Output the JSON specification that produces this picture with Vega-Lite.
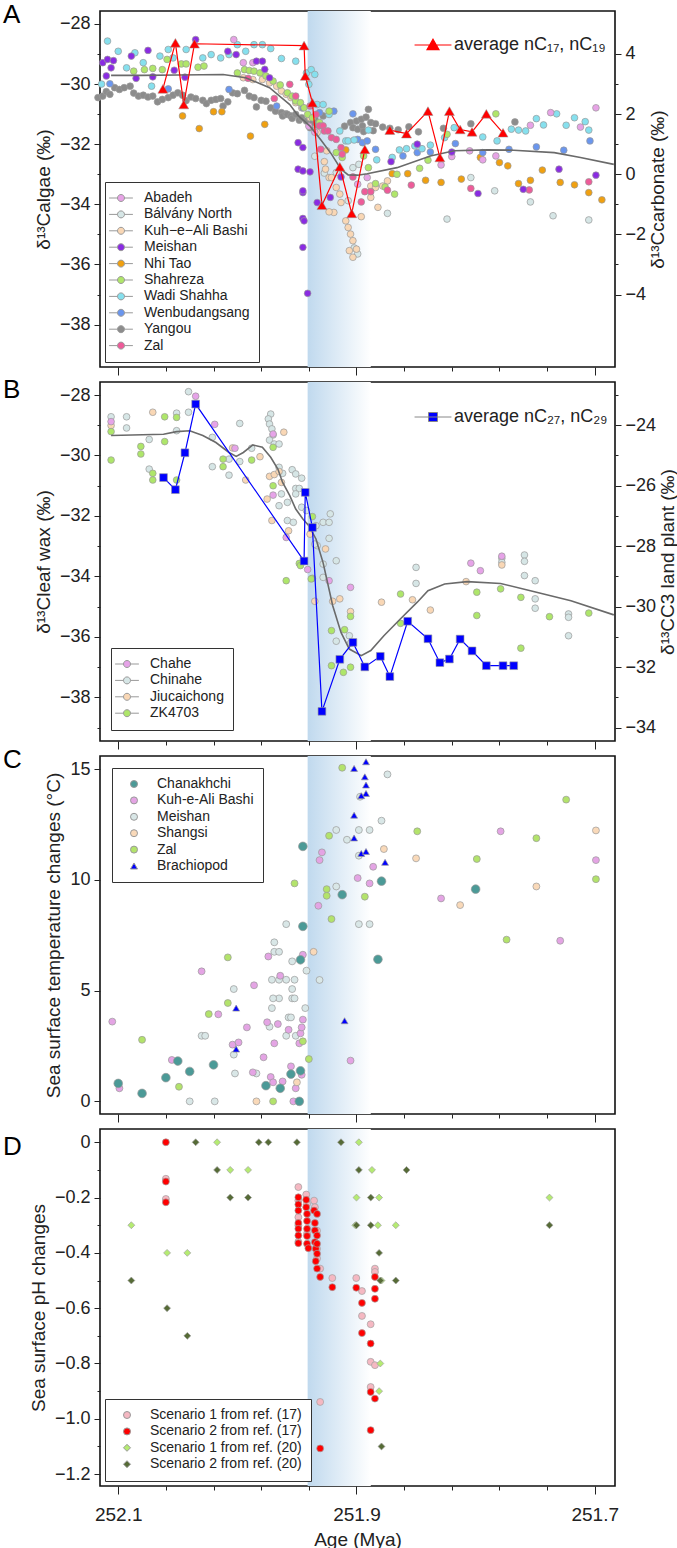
{
"$schema": "https://vega.github.io/schema/vega-lite/v6.json",
"padding": {"left": 2, "top": 1, "right": 0, "bottom": 0},
"autosize": {"type": "pad"},
"config": {
  "font": "Liberation Sans",
  "view": {"stroke": "#111", "strokeWidth": 1.6},
  "axis": {"labelFont": "Liberation Sans", "titleFont": "Liberation Sans", "labelFontSize": 18, "titleFontSize": 19, "labelColor": "#222", "titleColor": "#222", "titleFontWeight": "normal", "tickColor": "#222", "domain": false, "grid": false, "labelOverlap": false, "labelFlush": false, "labelPadding": 4, "titlePadding": 6},
  "legend": {"labelFont": "Liberation Sans", "labelFontSize": 14, "labelColor": "#222"},
  "title": {"font": "Liberation Sans", "fontSize": 26, "fontWeight": "normal", "anchor": "start", "frame": "group", "offset": 0, "baseline": "alphabetic", "color": "#000"},
  "concat": {"spacing": 15}
},
"bounds": "flush",
"spacing": 15,
"resolve": {"scale": {"color": "independent", "shape": "independent", "size": "independent", "x": "independent", "y": "independent"}, "legend": {"color": "independent", "shape": "independent", "size": "independent"}},
"datasets": {
  "band": [{"start": 251.941, "end": 251.888}],
  "sitesA": [
{"s":"Yangou","a":252.117,"v":2.55},{"s":"Yangou","a":252.113,"v":2.60},{"s":"Yangou","a":252.110,"v":2.75},{"s":"Yangou","a":252.107,"v":2.66},{"s":"Yangou","a":252.103,"v":2.88},{"s":"Yangou","a":252.099,"v":2.82},{"s":"Yangou","a":252.095,"v":2.88},{"s":"Yangou","a":252.090,"v":2.93},{"s":"Yangou","a":252.087,"v":2.70},{"s":"Yangou","a":252.083,"v":2.60},{"s":"Yangou","a":252.079,"v":2.63},{"s":"Yangou","a":252.075,"v":2.57},{"s":"Yangou","a":252.071,"v":2.60},{"s":"Yangou","a":252.067,"v":2.41},{"s":"Yangou","a":252.063,"v":2.49},{"s":"Yangou","a":252.058,"v":2.55},{"s":"Yangou","a":252.054,"v":2.63},{"s":"Yangou","a":252.050,"v":2.71},{"s":"Yangou","a":252.046,"v":2.63},{"s":"Yangou","a":252.043,"v":2.45},{"s":"Yangou","a":252.039,"v":2.57},{"s":"Yangou","a":252.035,"v":2.52},{"s":"Yangou","a":252.029,"v":2.46},{"s":"Yangou","a":252.026,"v":2.35},{"s":"Yangou","a":252.022,"v":2.46},{"s":"Yangou","a":252.018,"v":2.49},{"s":"Yangou","a":252.014,"v":2.52},{"s":"Yangou","a":252.012,"v":2.27},{"s":"Yangou","a":252.008,"v":2.41},{"s":"Yangou","a":252.004,"v":2.71},{"s":"Yangou","a":252.000,"v":2.68},{"s":"Yangou","a":251.994,"v":2.79},{"s":"Yangou","a":251.990,"v":2.60},{"s":"Yangou","a":251.986,"v":2.55},{"s":"Yangou","a":251.984,"v":2.24},{"s":"Yangou","a":251.980,"v":2.46},{"s":"Yangou","a":251.976,"v":2.43},{"s":"Yangou","a":251.972,"v":2.21},{"s":"Yangou","a":251.968,"v":2.10},{"s":"Yangou","a":251.963,"v":2.05},{"s":"Yangou","a":251.962,"v":1.94},{"s":"Yangou","a":251.959,"v":2.01},{"s":"Yangou","a":251.958,"v":1.99},{"s":"Yangou","a":251.955,"v":1.94},{"s":"Yangou","a":251.954,"v":1.86},{"s":"Yangou","a":251.951,"v":1.99},{"s":"Yangou","a":251.948,"v":1.80},{"s":"Yangou","a":251.946,"v":1.88},{"s":"Yangou","a":251.942,"v":1.77},{"s":"Yangou","a":251.939,"v":1.55},{"s":"Yangou","a":251.937,"v":1.72},{"s":"Yangou","a":251.935,"v":1.85},{"s":"Yangou","a":251.933,"v":1.64},{"s":"Yangou","a":251.928,"v":1.94},{"s":"Yangou","a":251.910,"v":1.60},{"s":"Yangou","a":251.905,"v":1.72},{"s":"Yangou","a":251.903,"v":1.55},{"s":"Yangou","a":251.900,"v":1.77},{"s":"Yangou","a":251.899,"v":1.50},{"s":"Yangou","a":251.896,"v":1.83},{"s":"Yangou","a":251.895,"v":1.61},{"s":"Yangou","a":251.894,"v":1.42},{"s":"Yangou","a":251.892,"v":1.90},{"s":"Yangou","a":251.890,"v":2.16},{"s":"Yangou","a":251.888,"v":1.72},{"s":"Yangou","a":251.886,"v":1.45},{"s":"Yangou","a":251.884,"v":1.68},{"s":"Yangou","a":251.878,"v":1.57},{"s":"Yangou","a":251.872,"v":1.53},{"s":"Yangou","a":251.865,"v":1.48},{"s":"Yangou","a":251.856,"v":1.58},{"s":"Yangou","a":251.848,"v":1.41},{"s":"Yangou","a":251.827,"v":1.53},{"s":"Yangou","a":251.804,"v":1.68},{"s":"Yangou","a":251.767,"v":1.74},
{"s":"Bálvány North","a":251.927,"v":0.04},{"s":"Bálvány North","a":251.917,"v":0.06},{"s":"Bálvány North","a":251.907,"v":-0.88},{"s":"Bálvány North","a":251.903,"v":0.22},{"s":"Bálvány North","a":251.898,"v":0.33},{"s":"Bálvány North","a":251.874,"v":-1.30},{"s":"Bálvány North","a":251.824,"v":-1.49},{"s":"Bálvány North","a":251.804,"v":-0.11},{"s":"Bálvány North","a":251.784,"v":-0.55},{"s":"Bálvány North","a":251.754,"v":-0.92},{"s":"Bálvány North","a":251.735,"v":-1.38},{"s":"Bálvány North","a":251.705,"v":-1.52},{"s":"Bálvány North","a":251.899,"v":-2.65},{"s":"Bálvány North","a":251.902,"v":-2.45},{"s":"Bálvány North","a":251.935,"v":0.60},
{"s":"Kuh−e−Ali Bashi","a":251.995,"v":3.21},{"s":"Kuh−e−Ali Bashi","a":251.987,"v":3.15},{"s":"Kuh−e−Ali Bashi","a":251.979,"v":3.15},{"s":"Kuh−e−Ali Bashi","a":251.973,"v":3.04},{"s":"Kuh−e−Ali Bashi","a":251.967,"v":2.93},{"s":"Kuh−e−Ali Bashi","a":251.963,"v":2.77},{"s":"Kuh−e−Ali Bashi","a":251.959,"v":2.66},{"s":"Kuh−e−Ali Bashi","a":251.955,"v":2.55},{"s":"Kuh−e−Ali Bashi","a":251.951,"v":2.38},{"s":"Kuh−e−Ali Bashi","a":251.946,"v":2.21},{"s":"Kuh−e−Ali Bashi","a":251.939,"v":1.88},{"s":"Kuh−e−Ali Bashi","a":251.933,"v":1.39},{"s":"Kuh−e−Ali Bashi","a":251.925,"v":0.78},{"s":"Kuh−e−Ali Bashi","a":251.927,"v":0.42},{"s":"Kuh−e−Ali Bashi","a":251.926,"v":0.17},{"s":"Kuh−e−Ali Bashi","a":251.923,"v":-0.11},{"s":"Kuh−e−Ali Bashi","a":251.921,"v":-0.11},{"s":"Kuh−e−Ali Bashi","a":251.917,"v":-0.44},{"s":"Kuh−e−Ali Bashi","a":251.914,"v":-0.66},{"s":"Kuh−e−Ali Bashi","a":251.913,"v":-0.94},{"s":"Kuh−e−Ali Bashi","a":251.909,"v":-1.55},{"s":"Kuh−e−Ali Bashi","a":251.907,"v":-1.77},{"s":"Kuh−e−Ali Bashi","a":251.905,"v":-1.99},{"s":"Kuh−e−Ali Bashi","a":251.903,"v":-2.21},{"s":"Kuh−e−Ali Bashi","a":251.906,"v":-2.54},{"s":"Kuh−e−Ali Bashi","a":251.903,"v":-2.76},{"s":"Kuh−e−Ali Bashi","a":251.900,"v":-2.49},{"s":"Kuh−e−Ali Bashi","a":251.896,"v":-1.41},{"s":"Kuh−e−Ali Bashi","a":251.919,"v":-1.27},{"s":"Kuh−e−Ali Bashi","a":251.923,"v":-1.25},{"s":"Kuh−e−Ali Bashi","a":251.888,"v":-0.39},{"s":"Kuh−e−Ali Bashi","a":251.884,"v":-0.44},{"s":"Kuh−e−Ali Bashi","a":251.888,"v":-0.77},{"s":"Kuh−e−Ali Bashi","a":251.882,"v":-1.10},{"s":"Kuh−e−Ali Bashi","a":251.878,"v":-0.39},{"s":"Kuh−e−Ali Bashi","a":251.874,"v":-0.22},
{"s":"Nhi Tao","a":252.046,"v":1.94},{"s":"Nhi Tao","a":252.032,"v":1.52},{"s":"Nhi Tao","a":252.020,"v":2.08},{"s":"Nhi Tao","a":252.013,"v":2.08},{"s":"Nhi Tao","a":251.989,"v":1.27},{"s":"Nhi Tao","a":251.977,"v":1.66},{"s":"Nhi Tao","a":251.909,"v":0.81},{"s":"Nhi Tao","a":251.870,"v":0.02},{"s":"Nhi Tao","a":251.857,"v":0.02},{"s":"Nhi Tao","a":251.842,"v":-0.20},{"s":"Nhi Tao","a":251.829,"v":-0.27},{"s":"Nhi Tao","a":251.812,"v":-0.16},{"s":"Nhi Tao","a":251.796,"v":0.56},{"s":"Nhi Tao","a":251.780,"v":0.39},{"s":"Nhi Tao","a":251.773,"v":0.28},{"s":"Nhi Tao","a":251.764,"v":-0.31},{"s":"Nhi Tao","a":251.754,"v":-0.20},{"s":"Nhi Tao","a":251.744,"v":0.14},{"s":"Nhi Tao","a":251.729,"v":-0.27},{"s":"Nhi Tao","a":251.717,"v":-0.35},{"s":"Nhi Tao","a":251.705,"v":-0.61},{"s":"Nhi Tao","a":251.694,"v":-0.85},
{"s":"Wenbudangsang","a":252.107,"v":3.01},{"s":"Wenbudangsang","a":252.058,"v":2.84},{"s":"Wenbudangsang","a":252.007,"v":2.82},{"s":"Wenbudangsang","a":251.967,"v":2.27},{"s":"Wenbudangsang","a":251.945,"v":2.21},{"s":"Wenbudangsang","a":251.931,"v":2.05},{"s":"Wenbudangsang","a":251.919,"v":2.10},{"s":"Wenbudangsang","a":251.903,"v":2.01},{"s":"Wenbudangsang","a":251.899,"v":1.16},{"s":"Wenbudangsang","a":251.895,"v":1.05},{"s":"Wenbudangsang","a":251.891,"v":1.11},{"s":"Wenbudangsang","a":251.884,"v":0.83},{"s":"Wenbudangsang","a":251.861,"v":0.61},{"s":"Wenbudangsang","a":251.849,"v":0.72},{"s":"Wenbudangsang","a":251.838,"v":0.74},{"s":"Wenbudangsang","a":251.817,"v":1.02},{"s":"Wenbudangsang","a":251.794,"v":0.72},{"s":"Wenbudangsang","a":251.772,"v":0.83},{"s":"Wenbudangsang","a":251.749,"v":0.91},{"s":"Wenbudangsang","a":251.726,"v":0.80},{"s":"Wenbudangsang","a":251.704,"v":1.11},
{"s":"Wadi Shahha","a":252.114,"v":3.00},{"s":"Wadi Shahha","a":252.109,"v":4.43},{"s":"Wadi Shahha","a":252.100,"v":4.09},{"s":"Wadi Shahha","a":252.093,"v":3.54},{"s":"Wadi Shahha","a":252.086,"v":4.04},{"s":"Wadi Shahha","a":252.079,"v":3.71},{"s":"Wadi Shahha","a":252.072,"v":2.93},{"s":"Wadi Shahha","a":252.065,"v":3.93},{"s":"Wadi Shahha","a":252.058,"v":4.15},{"s":"Wadi Shahha","a":252.054,"v":3.87},{"s":"Wadi Shahha","a":252.043,"v":4.15},{"s":"Wadi Shahha","a":252.029,"v":3.87},{"s":"Wadi Shahha","a":252.022,"v":3.98},{"s":"Wadi Shahha","a":252.014,"v":3.87},{"s":"Wadi Shahha","a":252.007,"v":3.98},{"s":"Wadi Shahha","a":252.000,"v":4.31},{"s":"Wadi Shahha","a":251.993,"v":4.09},{"s":"Wadi Shahha","a":251.986,"v":4.31},{"s":"Wadi Shahha","a":251.979,"v":4.31},{"s":"Wadi Shahha","a":251.972,"v":4.18},{"s":"Wadi Shahha","a":251.963,"v":3.85},{"s":"Wadi Shahha","a":251.951,"v":3.76},{"s":"Wadi Shahha","a":251.942,"v":3.37},{"s":"Wadi Shahha","a":251.938,"v":3.48},{"s":"Wadi Shahha","a":251.935,"v":3.32},{"s":"Wadi Shahha","a":251.940,"v":2.99},{"s":"Wadi Shahha","a":251.933,"v":2.32},{"s":"Wadi Shahha","a":251.928,"v":2.32},{"s":"Wadi Shahha","a":251.923,"v":1.99},{"s":"Wadi Shahha","a":251.914,"v":1.44},{"s":"Wadi Shahha","a":251.909,"v":1.11},{"s":"Wadi Shahha","a":251.907,"v":1.11},{"s":"Wadi Shahha","a":251.902,"v":1.14},{"s":"Wadi Shahha","a":251.890,"v":1.47},{"s":"Wadi Shahha","a":251.883,"v":0.48},{"s":"Wadi Shahha","a":251.870,"v":0.56},{"s":"Wadi Shahha","a":251.864,"v":0.81},{"s":"Wadi Shahha","a":251.858,"v":0.85},{"s":"Wadi Shahha","a":251.851,"v":0.94},{"s":"Wadi Shahha","a":251.845,"v":0.85},{"s":"Wadi Shahha","a":251.838,"v":0.97},{"s":"Wadi Shahha","a":251.826,"v":1.22},{"s":"Wadi Shahha","a":251.818,"v":1.55},{"s":"Wadi Shahha","a":251.794,"v":1.24},{"s":"Wadi Shahha","a":251.782,"v":1.11},{"s":"Wadi Shahha","a":251.770,"v":1.50},{"s":"Wadi Shahha","a":251.764,"v":1.47},{"s":"Wadi Shahha","a":251.758,"v":1.44},{"s":"Wadi Shahha","a":251.749,"v":1.85},{"s":"Wadi Shahha","a":251.743,"v":1.64},{"s":"Wadi Shahha","a":251.732,"v":2.01},{"s":"Wadi Shahha","a":251.724,"v":1.63},{"s":"Wadi Shahha","a":251.717,"v":1.88},{"s":"Wadi Shahha","a":251.708,"v":1.75},{"s":"Wadi Shahha","a":251.705,"v":1.47},
{"s":"Shahreza","a":252.087,"v":3.43},{"s":"Shahreza","a":252.078,"v":3.48},{"s":"Shahreza","a":252.071,"v":3.52},{"s":"Shahreza","a":252.063,"v":3.48},{"s":"Shahreza","a":252.059,"v":3.82},{"s":"Shahreza","a":252.047,"v":3.67},{"s":"Shahreza","a":252.043,"v":3.67},{"s":"Shahreza","a":252.033,"v":3.56},{"s":"Shahreza","a":252.028,"v":3.60},{"s":"Shahreza","a":252.000,"v":3.37},{"s":"Shahreza","a":251.994,"v":3.48},{"s":"Shahreza","a":251.990,"v":3.45},{"s":"Shahreza","a":251.986,"v":3.43},{"s":"Shahreza","a":251.981,"v":3.37},{"s":"Shahreza","a":251.976,"v":3.27},{"s":"Shahreza","a":251.970,"v":3.10},{"s":"Shahreza","a":251.964,"v":2.97},{"s":"Shahreza","a":251.958,"v":2.71},{"s":"Shahreza","a":251.954,"v":2.60},{"s":"Shahreza","a":251.951,"v":2.44},{"s":"Shahreza","a":251.947,"v":2.38},{"s":"Shahreza","a":251.944,"v":2.21},{"s":"Shahreza","a":251.941,"v":1.99},{"s":"Shahreza","a":251.937,"v":1.88},{"s":"Shahreza","a":251.931,"v":1.72},{"s":"Shahreza","a":251.923,"v":2.10},{"s":"Shahreza","a":251.917,"v":0.72},{"s":"Shahreza","a":251.912,"v":0.56},{"s":"Shahreza","a":251.894,"v":0.61},{"s":"Shahreza","a":251.890,"v":0.22},{"s":"Shahreza","a":251.884,"v":-0.31},{"s":"Shahreza","a":251.876,"v":-0.42},{"s":"Shahreza","a":251.868,"v":-0.66},{"s":"Shahreza","a":251.866,"v":0.00},{"s":"Shahreza","a":251.847,"v":0.20},{"s":"Shahreza","a":251.840,"v":0.47},{"s":"Shahreza","a":251.824,"v":1.33},{"s":"Shahreza","a":251.783,"v":2.01},
{"s":"Abadeh","a":252.003,"v":4.48},{"s":"Abadeh","a":251.995,"v":3.71},{"s":"Abadeh","a":251.987,"v":3.71},{"s":"Abadeh","a":251.891,"v":-0.11},{"s":"Abadeh","a":251.899,"v":-0.33},{"s":"Abadeh","a":251.829,"v":0.31},{"s":"Abadeh","a":251.820,"v":0.59},{"s":"Abadeh","a":251.805,"v":0.78},{"s":"Abadeh","a":251.794,"v":0.48},{"s":"Abadeh","a":251.783,"v":0.61},{"s":"Abadeh","a":251.754,"v":1.63},{"s":"Abadeh","a":251.737,"v":2.05},{"s":"Abadeh","a":251.712,"v":1.57},{"s":"Abadeh","a":251.699,"v":2.21},{"s":"Abadeh","a":251.940,"v":1.60},{"s":"Abadeh","a":251.935,"v":1.40},
{"s":"Zal","a":251.991,"v":3.19},{"s":"Zal","a":251.969,"v":2.52},{"s":"Zal","a":251.956,"v":2.99},{"s":"Zal","a":251.951,"v":2.60},{"s":"Zal","a":251.939,"v":2.27},{"s":"Zal","a":251.934,"v":1.99},{"s":"Zal","a":251.931,"v":1.61},{"s":"Zal","a":251.928,"v":1.61},{"s":"Zal","a":251.927,"v":1.44},{"s":"Zal","a":251.924,"v":1.44},{"s":"Zal","a":251.921,"v":1.22},{"s":"Zal","a":251.917,"v":1.16},{"s":"Zal","a":251.913,"v":0.89},{"s":"Zal","a":251.930,"v":0.83},{"s":"Zal","a":251.912,"v":0.67},{"s":"Zal","a":251.903,"v":-0.09},{"s":"Zal","a":251.896,"v":-0.92},{"s":"Zal","a":251.893,"v":-0.58},{"s":"Zal","a":251.888,"v":-0.58},{"s":"Zal","a":251.874,"v":-0.53},{"s":"Zal","a":251.854,"v":-0.36},{"s":"Zal","a":251.804,"v":-0.47},{"s":"Zal","a":251.755,"v":-0.52},{"s":"Zal","a":251.705,"v":-0.25},
{"s":"Meishan","a":252.113,"v":3.71},{"s":"Meishan","a":252.109,"v":3.82},{"s":"Meishan","a":252.106,"v":3.54},{"s":"Meishan","a":252.104,"v":3.78},{"s":"Meishan","a":252.110,"v":3.27},{"s":"Meishan","a":252.089,"v":3.93},{"s":"Meishan","a":252.085,"v":3.19},{"s":"Meishan","a":252.075,"v":4.12},{"s":"Meishan","a":252.071,"v":3.24},{"s":"Meishan","a":252.053,"v":3.46},{"s":"Meishan","a":252.044,"v":3.23},{"s":"Meishan","a":252.035,"v":4.48},{"s":"Meishan","a":252.008,"v":4.09},{"s":"Meishan","a":252.001,"v":3.98},{"s":"Meishan","a":251.984,"v":3.76},{"s":"Meishan","a":251.979,"v":3.76},{"s":"Meishan","a":251.977,"v":3.49},{"s":"Meishan","a":251.973,"v":3.21},{"s":"Meishan","a":251.949,"v":1.05},{"s":"Meishan","a":251.945,"v":0.89},{"s":"Meishan","a":251.949,"v":0.17},{"s":"Meishan","a":251.945,"v":0.11},{"s":"Meishan","a":251.945,"v":-0.61},{"s":"Meishan","a":251.933,"v":-0.94},{"s":"Meishan","a":251.939,"v":0.08},{"s":"Meishan","a":251.945,"v":-0.55},{"s":"Meishan","a":251.945,"v":-1.47},{"s":"Meishan","a":251.944,"v":-1.55},{"s":"Meishan","a":251.945,"v":-2.43},{"s":"Meishan","a":251.941,"v":-3.96},{"s":"Meishan","a":251.922,"v":-0.77},{"s":"Meishan","a":251.913,"v":-0.09},{"s":"Meishan","a":251.871,"v":0.42},{"s":"Meishan","a":251.849,"v":1.00},{"s":"Meishan","a":251.820,"v":0.74},{"s":"Meishan","a":251.798,"v":-0.64},{"s":"Meishan","a":251.760,"v":-0.50},{"s":"Meishan","a":251.730,"v":0.17},{"s":"Meishan","a":251.699,"v":-0.03}
  ],
  "curveA": [{"a":252.106,"v":3.29},{"a":252.08,"v":3.29},{"a":252.05,"v":3.30},{"a":252.03,"v":3.31},{"a":252.012,"v":3.32},{"a":251.993,"v":3.21},{"a":251.973,"v":2.88},{"a":251.963,"v":2.55},{"a":251.956,"v":2.32},{"a":251.949,"v":1.95},{"a":251.939,"v":1.60},{"a":251.930,"v":1.15},{"a":251.921,"v":0.67},{"a":251.913,"v":0.17},{"a":251.907,"v":-0.02},{"a":251.899,"v":-0.03},{"a":251.891,"v":0.02},{"a":251.866,"v":0.22},{"a":251.838,"v":0.61},{"a":251.818,"v":0.78},{"a":251.79,"v":0.81},{"a":251.768,"v":0.80},{"a":251.734,"v":0.72},{"a":251.712,"v":0.56},{"a":251.684,"v":0.33}],
  "triA": [{"seg":1,"a":252.0625,"v":-30.16},{"seg":1,"a":252.052,"v":-28.63},{"seg":1,"a":252.045,"v":-30.68},{"seg":1,"a":252.036,"v":-28.66},{"seg":1,"a":251.944,"v":-28.72},{"seg":1,"a":251.943,"v":-29.73},{"seg":1,"a":251.937,"v":-30.62},{"seg":1,"a":251.929,"v":-34.03},{"seg":1,"a":251.914,"v":-32.75},{"seg":1,"a":251.904,"v":-34.30},{"seg":1,"a":251.893,"v":-32.17},{"seg":2,"a":251.872,"v":-31.53},{"seg":2,"a":251.858,"v":-31.65},{"seg":2,"a":251.840,"v":-30.90},{"seg":2,"a":251.830,"v":-32.44},{"seg":2,"a":251.822,"v":-30.90},{"seg":2,"a":251.813,"v":-31.51},{"seg":2,"a":251.803,"v":-31.59},{"seg":2,"a":251.791,"v":-30.99},{"seg":2,"a":251.777,"v":-31.62}],
  "sitesB": [
{"s":"Chinahe","a":252.106,"v":-23.72},{"s":"Chinahe","a":252.093,"v":-23.72},{"s":"Chinahe","a":252.093,"v":-24.09},{"s":"Chinahe","a":252.074,"v":-24.47},{"s":"Chinahe","a":252.074,"v":-25.45},{"s":"Chinahe","a":252.051,"v":-23.60},{"s":"Chinahe","a":252.051,"v":-24.18},{"s":"Chinahe","a":252.041,"v":-22.89},{"s":"Chinahe","a":252.041,"v":-23.57},{"s":"Chinahe","a":252.021,"v":-24.40},{"s":"Chinahe","a":252.021,"v":-25.37},{"s":"Chinahe","a":252.007,"v":-25.12},{"s":"Chinahe","a":252.007,"v":-25.65},{"s":"Chinahe","a":251.998,"v":-25.20},{"s":"Chinahe","a":251.998,"v":-23.94},{"s":"Chinahe","a":251.988,"v":-24.76},{"s":"Chinahe","a":251.972,"v":-23.63},{"s":"Chinahe","a":251.974,"v":-23.79},{"s":"Chinahe","a":251.973,"v":-23.96},{"s":"Chinahe","a":251.971,"v":-24.12},{"s":"Chinahe","a":251.970,"v":-24.32},{"s":"Chinahe","a":251.973,"v":-24.49},{"s":"Chinahe","a":251.969,"v":-24.62},{"s":"Chinahe","a":251.965,"v":-24.62},{"s":"Chinahe","a":251.965,"v":-25.39},{"s":"Chinahe","a":251.962,"v":-25.59},{"s":"Chinahe","a":251.954,"v":-25.47},{"s":"Chinahe","a":251.951,"v":-25.61},{"s":"Chinahe","a":251.946,"v":-25.75},{"s":"Chinahe","a":251.951,"v":-26.09},{"s":"Chinahe","a":251.948,"v":-26.09},{"s":"Chinahe","a":251.951,"v":-26.27},{"s":"Chinahe","a":251.963,"v":-26.27},{"s":"Chinahe","a":251.965,"v":-26.66},{"s":"Chinahe","a":251.958,"v":-26.55},{"s":"Chinahe","a":251.946,"v":-26.71},{"s":"Chinahe","a":251.958,"v":-27.15},{"s":"Chinahe","a":251.953,"v":-27.21},{"s":"Chinahe","a":251.942,"v":-26.82},{"s":"Chinahe","a":251.934,"v":-27.32},{"s":"Chinahe","a":251.928,"v":-27.21},{"s":"Chinahe","a":251.923,"v":-27.21},{"s":"Chinahe","a":251.922,"v":-26.93},{"s":"Chinahe","a":251.923,"v":-27.74},{"s":"Chinahe","a":251.933,"v":-27.98},{"s":"Chinahe","a":251.917,"v":-28.48},{"s":"Chinahe","a":251.928,"v":-29.03},{"s":"Chinahe","a":251.935,"v":-27.93},{"s":"Chinahe","a":251.928,"v":-28.59},{"s":"Chinahe","a":251.917,"v":-31.14},{"s":"Chinahe","a":251.906,"v":-30.96},{"s":"Chinahe","a":251.905,"v":-31.21},{"s":"Chinahe","a":251.850,"v":-28.70},{"s":"Chinahe","a":251.850,"v":-29.23},{"s":"Chinahe","a":251.778,"v":-28.40},{"s":"Chinahe","a":251.778,"v":-28.53},{"s":"Chinahe","a":251.759,"v":-28.29},{"s":"Chinahe","a":251.759,"v":-28.50},{"s":"Chinahe","a":251.759,"v":-28.97},{"s":"Chinahe","a":251.750,"v":-29.14},{"s":"Chinahe","a":251.750,"v":-29.74},{"s":"Chinahe","a":251.750,"v":-30.05},{"s":"Chinahe","a":251.722,"v":-30.24},{"s":"Chinahe","a":251.722,"v":-30.35},{"s":"Chinahe","a":251.722,"v":-30.96},
{"s":"Jiucaichong","a":252.106,"v":-24.01},{"s":"Jiucaichong","a":252.071,"v":-23.57},{"s":"Jiucaichong","a":252.004,"v":-24.75},{"s":"Jiucaichong","a":251.981,"v":-25.04},{"s":"Jiucaichong","a":251.993,"v":-25.81},{"s":"Jiucaichong","a":251.973,"v":-25.69},{"s":"Jiucaichong","a":251.969,"v":-25.63},{"s":"Jiucaichong","a":251.965,"v":-25.53},{"s":"Jiucaichong","a":251.963,"v":-25.89},{"s":"Jiucaichong","a":251.975,"v":-26.44},{"s":"Jiucaichong","a":251.971,"v":-27.15},{"s":"Jiucaichong","a":251.957,"v":-27.49},{"s":"Jiucaichong","a":251.961,"v":-24.23},{"s":"Jiucaichong","a":251.926,"v":-28.09},{"s":"Jiucaichong","a":251.939,"v":-27.60},{"s":"Jiucaichong","a":251.935,"v":-29.82},{"s":"Jiucaichong","a":251.920,"v":-29.82},{"s":"Jiucaichong","a":251.914,"v":-29.74},{"s":"Jiucaichong","a":251.905,"v":-30.16},{"s":"Jiucaichong","a":251.879,"v":-29.85},{"s":"Jiucaichong","a":251.853,"v":-29.77},{"s":"Jiucaichong","a":251.838,"v":-30.11},{"s":"Jiucaichong","a":251.808,"v":-29.17},{"s":"Jiucaichong","a":251.778,"v":-28.62},
{"s":"Chahe","a":252.106,"v":-23.88},{"s":"Chahe","a":252.035,"v":-23.04},{"s":"Chahe","a":252.019,"v":-23.97},{"s":"Chahe","a":252.002,"v":-24.76},{"s":"Chahe","a":251.970,"v":-26.31},{"s":"Chahe","a":251.959,"v":-27.71},{"s":"Chahe","a":251.941,"v":-28.77},{"s":"Chahe","a":251.970,"v":-24.29},{"s":"Chahe","a":251.923,"v":-29.14},{"s":"Chahe","a":251.905,"v":-29.36},{"s":"Chahe","a":251.804,"v":-28.56},{"s":"Chahe","a":251.796,"v":-28.81},{"s":"Chahe","a":251.778,"v":-28.33},
{"s":"ZK4703","a":252.106,"v":-24.21},{"s":"ZK4703","a":252.106,"v":-25.15},{"s":"ZK4703","a":252.081,"v":-24.70},{"s":"ZK4703","a":252.081,"v":-24.95},{"s":"ZK4703","a":252.071,"v":-25.59},{"s":"ZK4703","a":252.071,"v":-25.81},{"s":"ZK4703","a":252.061,"v":-23.72},{"s":"ZK4703","a":252.061,"v":-24.54},{"s":"ZK4703","a":252.051,"v":-23.74},{"s":"ZK4703","a":252.051,"v":-25.81},{"s":"ZK4703","a":252.012,"v":-25.12},{"s":"ZK4703","a":252.012,"v":-25.37},{"s":"ZK4703","a":251.988,"v":-25.15},{"s":"ZK4703","a":251.970,"v":-24.73},{"s":"ZK4703","a":251.970,"v":-26.00},{"s":"ZK4703","a":251.948,"v":-28.57},{"s":"ZK4703","a":251.947,"v":-28.64},{"s":"ZK4703","a":251.937,"v":-27.02},{"s":"ZK4703","a":251.937,"v":-29.06},{"s":"ZK4703","a":251.959,"v":-29.14},{"s":"ZK4703","a":251.938,"v":-29.08},{"s":"ZK4703","a":251.921,"v":-30.79},{"s":"ZK4703","a":251.910,"v":-30.76},{"s":"ZK4703","a":251.905,"v":-30.32},{"s":"ZK4703","a":251.921,"v":-31.95},{"s":"ZK4703","a":251.911,"v":-32.17},{"s":"ZK4703","a":251.905,"v":-32.00},{"s":"ZK4703","a":251.863,"v":-29.58},{"s":"ZK4703","a":251.863,"v":-30.55},{"s":"ZK4703","a":251.799,"v":-29.52},{"s":"ZK4703","a":251.799,"v":-30.29},{"s":"ZK4703","a":251.779,"v":-29.41},{"s":"ZK4703","a":251.762,"v":-29.69},{"s":"ZK4703","a":251.738,"v":-30.33},{"s":"ZK4703","a":251.705,"v":-30.21},{"s":"ZK4703","a":251.762,"v":-31.37}
  ],
  "curveB": [{"a":252.106,"v":-24.34},{"a":252.062,"v":-24.30},{"a":252.051,"v":-24.21},{"a":252.040,"v":-24.18},{"a":252.029,"v":-24.34},{"a":252.018,"v":-24.57},{"a":252.007,"v":-24.90},{"a":252.001,"v":-25.03},{"a":251.995,"v":-24.90},{"a":251.987,"v":-24.65},{"a":251.979,"v":-24.73},{"a":251.972,"v":-25.06},{"a":251.966,"v":-25.45},{"a":251.962,"v":-25.89},{"a":251.956,"v":-26.33},{"a":251.951,"v":-26.77},{"a":251.945,"v":-27.10},{"a":251.940,"v":-27.32},{"a":251.934,"v":-27.76},{"a":251.928,"v":-28.55},{"a":251.920,"v":-29.96},{"a":251.913,"v":-30.85},{"a":251.906,"v":-31.40},{"a":251.896,"v":-31.62},{"a":251.888,"v":-31.45},{"a":251.877,"v":-30.96},{"a":251.863,"v":-30.40},{"a":251.849,"v":-29.85},{"a":251.840,"v":-29.47},{"a":251.826,"v":-29.25},{"a":251.807,"v":-29.17},{"a":251.779,"v":-29.23},{"a":251.754,"v":-29.47},{"a":251.720,"v":-29.80},{"a":251.684,"v":-30.27}],
  "sqB": [{"a":252.062,"v":-30.73},{"a":252.052,"v":-31.13},{"a":252.044,"v":-29.91},{"a":252.035,"v":-28.30},{"a":251.944,"v":-33.49},{"a":251.943,"v":-31.22},{"a":251.937,"v":-32.38},{"a":251.929,"v":-38.46},{"a":251.914,"v":-36.74},{"a":251.903,"v":-36.18},{"a":251.893,"v":-36.99},{"a":251.880,"v":-36.64},{"a":251.872,"v":-37.31},{"a":251.857,"v":-35.48},{"a":251.840,"v":-36.06},{"a":251.830,"v":-36.85},{"a":251.822,"v":-36.73},{"a":251.813,"v":-36.07},{"a":251.803,"v":-36.46},{"a":251.791,"v":-36.95},{"a":251.777,"v":-36.95},{"a":251.768,"v":-36.95}],
  "sstC": [
{"s":"Meishan","a":252.040,"v":0.0},{"s":"Meishan","a":252.019,"v":0.0},{"s":"Meishan","a":252.030,"v":2.96},{"s":"Meishan","a":252.027,"v":2.96},{"s":"Meishan","a":252.003,"v":2.11},{"s":"Meishan","a":252.002,"v":1.26},{"s":"Meishan","a":251.984,"v":1.26},{"s":"Meishan","a":252.003,"v":5.07},{"s":"Meishan","a":251.973,"v":3.37},{"s":"Meishan","a":251.971,"v":4.21},{"s":"Meishan","a":251.965,"v":4.65},{"s":"Meishan","a":251.970,"v":4.65},{"s":"Meishan","a":251.971,"v":5.49},{"s":"Meishan","a":251.965,"v":5.49},{"s":"Meishan","a":251.959,"v":5.49},{"s":"Meishan","a":251.952,"v":5.49},{"s":"Meishan","a":251.969,"v":7.18},{"s":"Meishan","a":251.969,"v":6.75},{"s":"Meishan","a":251.965,"v":6.75},{"s":"Meishan","a":251.959,"v":8.00},{"s":"Meishan","a":251.954,"v":6.32},{"s":"Meishan","a":251.954,"v":5.07},{"s":"Meishan","a":251.954,"v":4.65},{"s":"Meishan","a":251.952,"v":4.65},{"s":"Meishan","a":251.957,"v":3.79},{"s":"Meishan","a":251.955,"v":3.79},{"s":"Meishan","a":251.959,"v":2.96},{"s":"Meishan","a":251.951,"v":2.96},{"s":"Meishan","a":251.943,"v":4.21},{"s":"Meishan","a":251.942,"v":5.90},{"s":"Meishan","a":251.931,"v":5.48},{"s":"Meishan","a":251.917,"v":12.25},{"s":"Meishan","a":251.917,"v":9.70},{"s":"Meishan","a":251.908,"v":11.81},{"s":"Meishan","a":251.898,"v":12.25},{"s":"Meishan","a":251.889,"v":12.25},{"s":"Meishan","a":251.898,"v":8.00},{"s":"Meishan","a":251.889,"v":8.00},{"s":"Meishan","a":251.898,"v":11.09},{"s":"Meishan","a":251.879,"v":12.67},{"s":"Meishan","a":251.874,"v":14.76},{"s":"Meishan","a":251.897,"v":13.75},
{"s":"Kuh-e-Ali Bashi","a":252.105,"v":3.60},{"s":"Kuh-e-Ali Bashi","a":252.099,"v":0.59},{"s":"Kuh-e-Ali Bashi","a":252.055,"v":1.87},{"s":"Kuh-e-Ali Bashi","a":252.030,"v":5.87},{"s":"Kuh-e-Ali Bashi","a":252.016,"v":3.93},{"s":"Kuh-e-Ali Bashi","a":252.004,"v":2.56},{"s":"Kuh-e-Ali Bashi","a":251.999,"v":2.66},{"s":"Kuh-e-Ali Bashi","a":251.992,"v":3.34},{"s":"Kuh-e-Ali Bashi","a":251.986,"v":5.24},{"s":"Kuh-e-Ali Bashi","a":251.987,"v":1.31},{"s":"Kuh-e-Ali Bashi","a":251.978,"v":1.99},{"s":"Kuh-e-Ali Bashi","a":251.974,"v":6.54},{"s":"Kuh-e-Ali Bashi","a":251.975,"v":3.57},{"s":"Kuh-e-Ali Bashi","a":251.972,"v":1.10},{"s":"Kuh-e-Ali Bashi","a":251.970,"v":0.86},{"s":"Kuh-e-Ali Bashi","a":251.969,"v":2.62},{"s":"Kuh-e-Ali Bashi","a":251.966,"v":3.49},{"s":"Kuh-e-Ali Bashi","a":251.964,"v":5.67},{"s":"Kuh-e-Ali Bashi","a":251.962,"v":0.90},{"s":"Kuh-e-Ali Bashi","a":251.957,"v":3.23},{"s":"Kuh-e-Ali Bashi","a":251.955,"v":1.58},{"s":"Kuh-e-Ali Bashi","a":251.953,"v":0.0},{"s":"Kuh-e-Ali Bashi","a":251.951,"v":0.59},{"s":"Kuh-e-Ali Bashi","a":251.948,"v":2.62},{"s":"Kuh-e-Ali Bashi","a":251.947,"v":3.07},{"s":"Kuh-e-Ali Bashi","a":251.946,"v":3.34},{"s":"Kuh-e-Ali Bashi","a":251.945,"v":3.69},{"s":"Kuh-e-Ali Bashi","a":251.945,"v":6.62},{"s":"Kuh-e-Ali Bashi","a":251.946,"v":1.20},{"s":"Kuh-e-Ali Bashi","a":251.932,"v":8.83},{"s":"Kuh-e-Ali Bashi","a":251.931,"v":10.89},{"s":"Kuh-e-Ali Bashi","a":251.929,"v":11.24},{"s":"Kuh-e-Ali Bashi","a":251.905,"v":1.84},{"s":"Kuh-e-Ali Bashi","a":251.899,"v":10.08},{"s":"Kuh-e-Ali Bashi","a":251.889,"v":9.84},{"s":"Kuh-e-Ali Bashi","a":251.886,"v":10.59},{"s":"Kuh-e-Ali Bashi","a":251.829,"v":9.16},{"s":"Kuh-e-Ali Bashi","a":251.779,"v":12.19},{"s":"Kuh-e-Ali Bashi","a":251.729,"v":7.25},{"s":"Kuh-e-Ali Bashi","a":251.699,"v":10.89},
{"s":"Shangsi","a":251.984,"v":0.0},{"s":"Shangsi","a":251.950,"v":0.86},{"s":"Shangsi","a":251.936,"v":6.75},{"s":"Shangsi","a":251.877,"v":11.39},{"s":"Shangsi","a":251.850,"v":10.97},{"s":"Shangsi","a":251.813,"v":8.86},{"s":"Shangsi","a":251.749,"v":9.70},{"s":"Shangsi","a":251.699,"v":12.23},
{"s":"Zal","a":252.080,"v":2.78},{"s":"Zal","a":252.049,"v":0.66},{"s":"Zal","a":252.024,"v":3.94},{"s":"Zal","a":252.008,"v":4.44},{"s":"Zal","a":252.008,"v":6.50},{"s":"Zal","a":251.970,"v":0.0},{"s":"Zal","a":251.945,"v":2.71},{"s":"Zal","a":251.940,"v":1.91},{"s":"Zal","a":251.952,"v":9.84},{"s":"Zal","a":251.925,"v":9.58},{"s":"Zal","a":251.925,"v":9.28},{"s":"Zal","a":251.923,"v":11.99},{"s":"Zal","a":251.921,"v":8.23},{"s":"Zal","a":251.912,"v":15.06},{"s":"Zal","a":251.893,"v":9.24},{"s":"Zal","a":251.849,"v":12.19},{"s":"Zal","a":251.799,"v":10.94},{"s":"Zal","a":251.774,"v":7.30},{"s":"Zal","a":251.749,"v":11.88},{"s":"Zal","a":251.724,"v":13.62},{"s":"Zal","a":251.699,"v":10.03},
{"s":"Chanakhchi","a":252.100,"v":0.81},{"s":"Chanakhchi","a":252.080,"v":0.36},{"s":"Chanakhchi","a":252.060,"v":1.07},{"s":"Chanakhchi","a":252.050,"v":1.82},{"s":"Chanakhchi","a":252.040,"v":1.35},{"s":"Chanakhchi","a":252.020,"v":1.65},{"s":"Chanakhchi","a":251.976,"v":0.71},{"s":"Chanakhchi","a":251.964,"v":0.59},{"s":"Chanakhchi","a":251.955,"v":1.23},{"s":"Chanakhchi","a":251.947,"v":1.38},{"s":"Chanakhchi","a":251.948,"v":0.0},{"s":"Chanakhchi","a":251.945,"v":11.51},{"s":"Chanakhchi","a":251.945,"v":7.90},{"s":"Chanakhchi","a":251.947,"v":6.39},{"s":"Chanakhchi","a":251.912,"v":9.33},{"s":"Chanakhchi","a":251.879,"v":9.94},{"s":"Chanakhchi","a":251.882,"v":6.41},{"s":"Chanakhchi","a":251.800,"v":9.58},
{"s":"Brachiopod","a":252.001,"v":4.21},{"s":"Brachiopod","a":252.001,"v":2.36},{"s":"Brachiopod","a":251.910,"v":3.64},{"s":"Brachiopod","a":251.902,"v":15.03},{"s":"Brachiopod","a":251.892,"v":15.33},{"s":"Brachiopod","a":251.893,"v":14.65},{"s":"Brachiopod","a":251.892,"v":14.28},{"s":"Brachiopod","a":251.892,"v":13.90},{"s":"Brachiopod","a":251.896,"v":13.80},{"s":"Brachiopod","a":251.902,"v":12.92},{"s":"Brachiopod","a":251.902,"v":11.89},{"s":"Brachiopod","a":251.896,"v":11.19},{"s":"Brachiopod","a":251.892,"v":11.28},{"s":"Brachiopod","a":251.876,"v":10.79}
  ],
  "phD": [
{"s":"Scenario 1 from ref. (17)","a":252.060,"v":-0.132},{"s":"Scenario 1 from ref. (17)","a":252.060,"v":-0.205},{"s":"Scenario 1 from ref. (17)","a":251.9488,"v":-0.162},{"s":"Scenario 1 from ref. (17)","a":251.9488,"v":-0.211},{"s":"Scenario 1 from ref. (17)","a":251.9488,"v":-0.271},{"s":"Scenario 1 from ref. (17)","a":251.9488,"v":-0.30},{"s":"Scenario 1 from ref. (17)","a":251.9488,"v":-0.36},{"s":"Scenario 1 from ref. (17)","a":251.9422,"v":-0.189},{"s":"Scenario 1 from ref. (17)","a":251.9415,"v":-0.223},{"s":"Scenario 1 from ref. (17)","a":251.9415,"v":-0.33},{"s":"Scenario 1 from ref. (17)","a":251.9356,"v":-0.211},{"s":"Scenario 1 from ref. (17)","a":251.9349,"v":-0.235},{"s":"Scenario 1 from ref. (17)","a":251.9331,"v":-0.32},{"s":"Scenario 1 from ref. (17)","a":251.9331,"v":-0.385},{"s":"Scenario 1 from ref. (17)","a":251.9331,"v":-0.42},{"s":"Scenario 1 from ref. (17)","a":251.9305,"v":-0.457},{"s":"Scenario 1 from ref. (17)","a":251.9203,"v":-0.491},{"s":"Scenario 1 from ref. (17)","a":251.9002,"v":-0.491},{"s":"Scenario 1 from ref. (17)","a":251.8954,"v":-0.538},{"s":"Scenario 1 from ref. (17)","a":251.8954,"v":-0.628},{"s":"Scenario 1 from ref. (17)","a":251.8881,"v":-0.658},{"s":"Scenario 1 from ref. (17)","a":251.8881,"v":-0.794},{"s":"Scenario 1 from ref. (17)","a":251.8881,"v":-0.885},{"s":"Scenario 1 from ref. (17)","a":251.8845,"v":-0.457},{"s":"Scenario 1 from ref. (17)","a":251.8845,"v":-0.469},{"s":"Scenario 1 from ref. (17)","a":251.8845,"v":-0.806},{"s":"Scenario 1 from ref. (17)","a":251.9305,"v":-0.939},
{"s":"Scenario 2 from ref. (17)","a":252.060,"v":0.0},{"s":"Scenario 2 from ref. (17)","a":252.060,"v":-0.142},{"s":"Scenario 2 from ref. (17)","a":252.060,"v":-0.217},{"s":"Scenario 2 from ref. (17)","a":251.9488,"v":-0.199},{"s":"Scenario 2 from ref. (17)","a":251.9488,"v":-0.225},{"s":"Scenario 2 from ref. (17)","a":251.9488,"v":-0.247},{"s":"Scenario 2 from ref. (17)","a":251.9488,"v":-0.292},{"s":"Scenario 2 from ref. (17)","a":251.9488,"v":-0.313},{"s":"Scenario 2 from ref. (17)","a":251.9488,"v":-0.337},{"s":"Scenario 2 from ref. (17)","a":251.9488,"v":-0.365},{"s":"Scenario 2 from ref. (17)","a":251.9422,"v":-0.208},{"s":"Scenario 2 from ref. (17)","a":251.9422,"v":-0.235},{"s":"Scenario 2 from ref. (17)","a":251.9415,"v":-0.259},{"s":"Scenario 2 from ref. (17)","a":251.9415,"v":-0.285},{"s":"Scenario 2 from ref. (17)","a":251.9415,"v":-0.313},{"s":"Scenario 2 from ref. (17)","a":251.9415,"v":-0.339},{"s":"Scenario 2 from ref. (17)","a":251.9415,"v":-0.367},{"s":"Scenario 2 from ref. (17)","a":251.9404,"v":-0.383},{"s":"Scenario 2 from ref. (17)","a":251.9356,"v":-0.247},{"s":"Scenario 2 from ref. (17)","a":251.9349,"v":-0.292},{"s":"Scenario 2 from ref. (17)","a":251.9349,"v":-0.319},{"s":"Scenario 2 from ref. (17)","a":251.9349,"v":-0.361},{"s":"Scenario 2 from ref. (17)","a":251.9342,"v":-0.385},{"s":"Scenario 2 from ref. (17)","a":251.9342,"v":-0.430},{"s":"Scenario 2 from ref. (17)","a":251.9331,"v":-0.259},{"s":"Scenario 2 from ref. (17)","a":251.9331,"v":-0.337},{"s":"Scenario 2 from ref. (17)","a":251.9331,"v":-0.367},{"s":"Scenario 2 from ref. (17)","a":251.9331,"v":-0.403},{"s":"Scenario 2 from ref. (17)","a":251.9331,"v":-0.457},{"s":"Scenario 2 from ref. (17)","a":251.9305,"v":-0.487},{"s":"Scenario 2 from ref. (17)","a":251.9203,"v":-0.524},{"s":"Scenario 2 from ref. (17)","a":251.9002,"v":-0.526},{"s":"Scenario 2 from ref. (17)","a":251.8954,"v":-0.581},{"s":"Scenario 2 from ref. (17)","a":251.8954,"v":-0.690},{"s":"Scenario 2 from ref. (17)","a":251.8881,"v":-0.728},{"s":"Scenario 2 from ref. (17)","a":251.8881,"v":-0.903},{"s":"Scenario 2 from ref. (17)","a":251.8881,"v":-1.041},{"s":"Scenario 2 from ref. (17)","a":251.8845,"v":-0.487},{"s":"Scenario 2 from ref. (17)","a":251.8845,"v":-0.530},{"s":"Scenario 2 from ref. (17)","a":251.8845,"v":-0.566},{"s":"Scenario 2 from ref. (17)","a":251.8845,"v":-0.927},{"s":"Scenario 2 from ref. (17)","a":251.9305,"v":-1.107},
{"s":"Scenario 1 from ref. (20)","a":252.089,"v":-0.3},{"s":"Scenario 1 from ref. (20)","a":252.059,"v":-0.4},{"s":"Scenario 1 from ref. (20)","a":252.042,"v":-0.4},{"s":"Scenario 1 from ref. (20)","a":252.017,"v":0.0},{"s":"Scenario 1 from ref. (20)","a":252.006,"v":-0.1},{"s":"Scenario 1 from ref. (20)","a":251.991,"v":-0.1},{"s":"Scenario 1 from ref. (20)","a":251.898,"v":0.0},{"s":"Scenario 1 from ref. (20)","a":251.900,"v":-0.2},{"s":"Scenario 1 from ref. (20)","a":251.901,"v":-0.3},{"s":"Scenario 1 from ref. (20)","a":251.887,"v":-0.1},{"s":"Scenario 1 from ref. (20)","a":251.881,"v":-0.2},{"s":"Scenario 1 from ref. (20)","a":251.882,"v":-0.3},{"s":"Scenario 1 from ref. (20)","a":251.867,"v":-0.3},{"s":"Scenario 1 from ref. (20)","a":251.879,"v":-0.5},{"s":"Scenario 1 from ref. (20)","a":251.880,"v":-0.8},{"s":"Scenario 1 from ref. (20)","a":251.881,"v":-0.9},{"s":"Scenario 1 from ref. (20)","a":251.738,"v":-0.2},
{"s":"Scenario 2 from ref. (20)","a":252.089,"v":-0.5},{"s":"Scenario 2 from ref. (20)","a":252.059,"v":-0.6},{"s":"Scenario 2 from ref. (20)","a":252.042,"v":-0.7},{"s":"Scenario 2 from ref. (20)","a":252.035,"v":0.0},{"s":"Scenario 2 from ref. (20)","a":252.017,"v":-0.1},{"s":"Scenario 2 from ref. (20)","a":252.006,"v":-0.2},{"s":"Scenario 2 from ref. (20)","a":251.991,"v":-0.2},{"s":"Scenario 2 from ref. (20)","a":251.982,"v":0.0},{"s":"Scenario 2 from ref. (20)","a":251.974,"v":0.0},{"s":"Scenario 2 from ref. (20)","a":251.950,"v":0.0},{"s":"Scenario 2 from ref. (20)","a":251.913,"v":0.0},{"s":"Scenario 2 from ref. (20)","a":251.898,"v":-0.1},{"s":"Scenario 2 from ref. (20)","a":251.900,"v":-0.3},{"s":"Scenario 2 from ref. (20)","a":251.888,"v":-0.2},{"s":"Scenario 2 from ref. (20)","a":251.888,"v":-0.3},{"s":"Scenario 2 from ref. (20)","a":251.881,"v":-0.4},{"s":"Scenario 2 from ref. (20)","a":251.880,"v":-0.5},{"s":"Scenario 2 from ref. (20)","a":251.867,"v":-0.5},{"s":"Scenario 2 from ref. (20)","a":251.858,"v":-0.1},{"s":"Scenario 2 from ref. (20)","a":251.879,"v":-1.1},{"s":"Scenario 2 from ref. (20)","a":251.738,"v":-0.3}
  ]
},
"vconcat": [
{
  "width": 515, "height": 356,
  "title": {"text": "A", "dx": -97, "dy": 21},
  "layer": [
    {"data": {"name": "band"},
     "mark": {"type": "rect", "clip": true, "fill": {"gradient": "linear", "x1": 0, "y1": 0, "x2": 1, "y2": 0, "stops": [{"offset": 0, "color": "#c0d9ee"}, {"offset": 1, "color": "#ffffff"}]}},
     "encoding": {"x": {"field": "start", "type": "quantitative", "title": null, "scale": {"domain": [251.683, 252.1153], "reverse": true, "nice": false, "zero": false}, "axis": {"values": [251.7,251.72,251.74,251.76,251.78,251.8,251.82,251.84,251.86,251.88,251.9,251.92,251.94,251.96,251.98,252,252.02,252.04,252.06,252.08,252.1], "labels": false, "title": null, "tickSize": {"condition": {"test": "abs(datum.value*10 - round(datum.value*10)) < 0.01", "value": 8}, "value": 4}}},
                  "x2": {"field": "end"}}},
    {"data": {"name": "sitesA"},
     "mark": {"type": "point", "filled": true, "shape": "circle", "size": 45, "stroke": "#999", "strokeWidth": 0.7, "opacity": 1},
     "encoding": {
       "x": {"field": "a", "type": "quantitative", "title": null, "scale": {"domain": [251.683, 252.1153], "reverse": true, "nice": false, "zero": false}},
       "y": {"field": "v", "type": "quantitative", "scale": {"domain": [-6.41, 5.43], "nice": false, "zero": false},
             "axis": {"orient": "right", "title": "δ¹³Ccarbonate (‰)", "titleAngle": 270, "titleBaseline": "top", "titlePadding": 3, "values": [-4,-3,-2,-1,0,1,2,3,4], "labelExpr": "datum.value % 2 === 0 ? replace(datum.label, '-', '−') : ''", "tickSize": {"condition": {"test": "datum.value % 2 === 0", "value": 6}, "value": 3}}},
       "color": {"field": "s", "type": "nominal",
                 "scale": {"domain": ["Abadeh","Bálvány North","Kuh−e−Ali Bashi","Meishan","Nhi Tao","Shahreza","Wadi Shahha","Wenbudangsang","Yangou","Zal"],
                           "range": ["#e7a3e6","#d6e6e6","#f9d7b5","#8a2be2","#f0a010","#b0e66a","#86e0ee","#6a96ee","#8c8c8c","#ee5b99"]},
                 "legend": {"orient": "bottom-left", "offset": 5, "title": null, "padding": 9, "rowPadding": 2.4, "symbolType": "M-3.4,0L-1,0M1,0L3.4,0M1,0A1,1,0,1,1,-1,0A1,1,0,1,1,1,0Z", "symbolSize": 49, "symbolStrokeColor": "#999", "symbolStrokeWidth": 1, "symbolOpacity": 1, "labelOffset": 16, "symbolOffset": 0, "strokeColor": "#333", "fillColor": "#ffffff"}}}},
    {"data": {"name": "curveA"},
     "mark": {"type": "line", "color": "#6a6a6a", "strokeWidth": 1.6, "clip": true},
     "encoding": {
       "x": {"field": "a", "type": "quantitative", "title": null, "scale": {"domain": [251.683, 252.1153], "reverse": true, "nice": false, "zero": false}},
       "y": {"field": "v", "type": "quantitative", "scale": {"domain": [-6.41, 5.43], "nice": false, "zero": false}, "axis": null}}},
    {"data": {"name": "triA"},
     "mark": {"type": "line", "color": "#ff0000", "strokeWidth": 1.2},
     "encoding": {
       "x": {"field": "a", "type": "quantitative", "title": null, "scale": {"domain": [251.683, 252.1153], "reverse": true, "nice": false, "zero": false}},
       "y": {"field": "v", "type": "quantitative", "scale": {"domain": [-39.41, -27.57], "nice": false, "zero": false},
             "axis": {"orient": "left", "title": "δ¹³Calgae (‰)", "values": [-38,-37,-36,-35,-34,-33,-32,-31,-30,-29,-28], "labelExpr": "datum.value % 2 === 0 ? replace(datum.label, '-', '−') : ''", "tickSize": {"condition": {"test": "datum.value % 2 === 0", "value": 6}, "value": 3}}},
       "detail": {"field": "seg", "type": "nominal"}}},
    {"data": {"name": "triA"},
     "mark": {"type": "point", "filled": true, "shape": "triangle-up", "stroke": "#999", "strokeWidth": 0.5, "size": 100, "opacity": 1},
     "encoding": {
       "x": {"field": "a", "type": "quantitative", "title": null, "scale": {"domain": [251.683, 252.1153], "reverse": true, "nice": false, "zero": false}},
       "y": {"field": "v", "type": "quantitative", "scale": {"domain": [-39.41, -27.57], "nice": false, "zero": false}, "axis": null},
       "color": {"datum": "average nC₁₇, nC₁₉", "type": "nominal", "scale": {"range": ["#ff0000"]},
                 "legend": {"orient": "none", "legendX": 312, "legendY": 25, "title": null, "padding": 0, "symbolType": "M-3.55,0L3.55,0M0,-1.1L1.15,0.9L-1.15,0.9Z", "symbolSize": 108, "symbolStrokeColor": "#ff0000", "symbolStrokeWidth": 1.2, "symbolOpacity": 1, "labelFontSize": 18, "labelOffset": 12, "symbolOffset": 12}}}}
  ],
  "resolve": {"scale": {"y": "independent", "color": "independent"}}
},
{
  "width": 515, "height": 359,
  "title": {"text": "B", "dx": -97, "dy": 25},
  "layer": [
    {"data": {"name": "band"},
     "mark": {"type": "rect", "clip": true, "fill": {"gradient": "linear", "x1": 0, "y1": 0, "x2": 1, "y2": 0, "stops": [{"offset": 0, "color": "#c0d9ee"}, {"offset": 1, "color": "#ffffff"}]}},
     "encoding": {"x": {"field": "start", "type": "quantitative", "title": null, "scale": {"domain": [251.683, 252.1153], "reverse": true, "nice": false, "zero": false}, "axis": {"values": [251.7,251.72,251.74,251.76,251.78,251.8,251.82,251.84,251.86,251.88,251.9,251.92,251.94,251.96,251.98,252,252.02,252.04,252.06,252.08,252.1], "labels": false, "title": null, "tickSize": {"condition": {"test": "abs(datum.value*10 - round(datum.value*10)) < 0.01", "value": 8}, "value": 4}}},
                  "x2": {"field": "end"}}},
    {"data": {"name": "sitesB"},
     "mark": {"type": "point", "filled": true, "shape": "circle", "size": 45, "stroke": "#999", "strokeWidth": 0.7, "opacity": 1},
     "encoding": {
       "x": {"field": "a", "type": "quantitative", "title": null, "scale": {"domain": [251.683, 252.1153], "reverse": true, "nice": false, "zero": false}},
       "y": {"field": "v", "type": "quantitative", "scale": {"domain": [-34.44, -22.57], "nice": false, "zero": false},
             "axis": {"orient": "right", "title": "δ¹³CC3 land plant (‰)", "titleAngle": 270, "titleBaseline": "top", "titlePadding": 3, "values": [-34,-33,-32,-31,-30,-29,-28,-27,-26,-25,-24,-23], "labelExpr": "datum.value % 2 === 0 ? replace(datum.label, '-', '−') : ''", "tickSize": {"condition": {"test": "datum.value % 2 === 0", "value": 6}, "value": 3}}},
       "color": {"field": "s", "type": "nominal",
                 "scale": {"domain": ["Chahe","Chinahe","Jiucaichong","ZK4703"], "range": ["#e6a3e8","#d6e6e6","#f9d7b5","#aee66a"]},
                 "legend": {"orient": "bottom-left", "offset": 11, "title": null, "padding": 9, "rowPadding": 2.4, "symbolType": "M-3.4,0L-1,0M1,0L3.4,0M1,0A1,1,0,1,1,-1,0A1,1,0,1,1,1,0Z", "symbolSize": 49, "symbolStrokeColor": "#999", "symbolStrokeWidth": 1, "symbolOpacity": 1, "labelOffset": 16, "symbolOffset": 0, "strokeColor": "#333", "fillColor": "#ffffff"}}}},
    {"data": {"name": "curveB"},
     "mark": {"type": "line", "color": "#6a6a6a", "strokeWidth": 1.6, "clip": true},
     "encoding": {
       "x": {"field": "a", "type": "quantitative", "title": null, "scale": {"domain": [251.683, 252.1153], "reverse": true, "nice": false, "zero": false}},
       "y": {"field": "v", "type": "quantitative", "scale": {"domain": [-34.44, -22.57], "nice": false, "zero": false}, "axis": null}}},
    {"data": {"name": "sqB"},
     "mark": {"type": "line", "color": "#0000ff", "strokeWidth": 1.2},
     "encoding": {
       "x": {"field": "a", "type": "quantitative", "title": null, "scale": {"domain": [251.683, 252.1153], "reverse": true, "nice": false, "zero": false}},
       "y": {"field": "v", "type": "quantitative", "scale": {"domain": [-39.44, -27.57], "nice": false, "zero": false},
             "axis": {"orient": "left", "title": "δ¹³Cleaf wax (‰)", "values": [-39,-38,-37,-36,-35,-34,-33,-32,-31,-30,-29,-28], "labelExpr": "datum.value % 2 === 0 ? replace(datum.label, '-', '−') : ''", "tickSize": {"condition": {"test": "datum.value % 2 === 0", "value": 6}, "value": 3}}}}},
    {"data": {"name": "sqB"},
     "mark": {"type": "point", "filled": true, "shape": "square", "stroke": "#999", "strokeWidth": 0.6, "size": 60, "opacity": 1},
     "encoding": {
       "x": {"field": "a", "type": "quantitative", "title": null, "scale": {"domain": [251.683, 252.1153], "reverse": true, "nice": false, "zero": false}},
       "y": {"field": "v", "type": "quantitative", "scale": {"domain": [-39.44, -27.57], "nice": false, "zero": false}, "axis": null},
       "color": {"datum": "average nC₂₇, nC₂₉", "type": "nominal", "scale": {"range": ["#0000ff"]},
                 "legend": {"orient": "none", "legendX": 312, "legendY": 26, "title": null, "padding": 0, "symbolType": "M-4.1,0L4.1,0M-1,-1L1,-1L1,1L-1,1Z", "symbolSize": 81, "symbolStrokeColor": "#888", "symbolStrokeWidth": 1, "symbolOpacity": 1, "labelFontSize": 18, "labelOffset": 12, "symbolOffset": 12}}}}
  ],
  "resolve": {"scale": {"y": "independent", "color": "independent"}}
},
{
  "width": 515, "height": 358,
  "title": {"text": "C", "dx": -97, "dy": 21},
  "layer": [
    {"data": {"name": "band"},
     "mark": {"type": "rect", "clip": true, "fill": {"gradient": "linear", "x1": 0, "y1": 0, "x2": 1, "y2": 0, "stops": [{"offset": 0, "color": "#c0d9ee"}, {"offset": 1, "color": "#ffffff"}]}},
     "encoding": {"x": {"field": "start", "type": "quantitative", "title": null, "scale": {"domain": [251.683, 252.1153], "reverse": true, "nice": false, "zero": false}, "axis": {"values": [251.7,251.72,251.74,251.76,251.78,251.8,251.82,251.84,251.86,251.88,251.9,251.92,251.94,251.96,251.98,252,252.02,252.04,252.06,252.08,252.1], "labels": false, "title": null, "tickSize": {"condition": {"test": "abs(datum.value*10 - round(datum.value*10)) < 0.01", "value": 8}, "value": 4}}},
                  "x2": {"field": "end"}}},
    {"data": {"name": "sstC"},
     "mark": {"type": "point", "filled": true, "stroke": "#999", "strokeWidth": 0.7, "opacity": 1},
     "encoding": {
       "x": {"field": "a", "type": "quantitative", "title": null, "scale": {"domain": [251.683, 252.1153], "reverse": true, "nice": false, "zero": false}},
       "y": {"field": "v", "type": "quantitative", "scale": {"domain": [-0.57, 15.59], "nice": false, "zero": false},
             "axis": {"title": "Sea surface temperature changes (°C)", "values": [0,5,10,15], "tickSize": 6}},
       "color": {"field": "s", "type": "nominal",
                 "scale": {"domain": ["Chanakhchi","Kuh-e-Ali Bashi","Meishan","Shangsi","Zal","Brachiopod"], "range": ["#4b9a97","#e4a4e4","#d9e7e7","#f9d9b9","#b3e36b","#0000ff"]},
                 "legend": {"orient": "top-left", "offset": 12, "title": null, "padding": 9, "rowPadding": 2.4, "symbolSize": 49, "symbolStrokeColor": "#999", "symbolStrokeWidth": 1, "symbolOpacity": 1, "labelOffset": 16, "symbolOffset": 6, "strokeColor": "#333", "fillColor": "#ffffff"}},
       "shape": {"field": "s", "type": "nominal",
                 "scale": {"domain": ["Chanakhchi","Kuh-e-Ali Bashi","Meishan","Shangsi","Zal","Brachiopod"], "range": ["circle","circle","circle","circle","circle","triangle-up"]},
                 "legend": null},
       "size": {"condition": {"test": "datum.s === 'Chanakhchi'", "value": 75}, "value": 48}}}
  ]
},
{
  "width": 515, "height": 357,
  "title": {"text": "D", "dx": -97, "dy": 35},
  "layer": [
    {"data": {"name": "band"},
     "mark": {"type": "rect", "clip": true, "fill": {"gradient": "linear", "x1": 0, "y1": 0, "x2": 1, "y2": 0, "stops": [{"offset": 0, "color": "#c0d9ee"}, {"offset": 1, "color": "#ffffff"}]}},
     "encoding": {"x": {"field": "start", "type": "quantitative", "title": "Age (Mya)", "scale": {"domain": [251.683, 252.1153], "reverse": true, "nice": false, "zero": false}, "axis": {"values": [251.7,251.72,251.74,251.76,251.78,251.8,251.82,251.84,251.86,251.88,251.9,251.92,251.94,251.96,251.98,252,252.02,252.04,252.06,252.08,252.1], "title": "Age (Mya)", "labelFontSize": 19, "labelPadding": 11, "labelExpr": "abs(datum.value*10 - round(datum.value*10)) < 0.01 ? format(datum.value, '.1f') : ''", "tickSize": {"condition": {"test": "abs(datum.value*10 - round(datum.value*10)) < 0.01", "value": 8}, "value": 4}}},
                  "x2": {"field": "end"}}},
    {"data": {"name": "phD"},
     "mark": {"type": "point", "filled": true, "stroke": "#a0a0a0", "strokeWidth": 0.7, "size": 48, "opacity": 1},
     "encoding": {
       "x": {"field": "a", "type": "quantitative", "title": "Age (Mya)", "scale": {"domain": [251.683, 252.1153], "reverse": true, "nice": false, "zero": false}},
       "y": {"field": "v", "type": "quantitative", "scale": {"domain": [-1.243, 0.048], "nice": false, "zero": false},
             "axis": {"title": "Sea surface pH changes", "values": [-1.2,-1.1,-1,-0.9,-0.8,-0.7,-0.6,-0.5,-0.4,-0.3,-0.2,-0.1,0], "labelExpr": "round(datum.value*10) % 2 === 0 ? (round(datum.value*10) === 0 ? '0' : replace(format(datum.value, '.1f'), '-', '−')) : ''", "tickSize": {"condition": {"test": "round(datum.value*10) % 2 === 0", "value": 6}, "value": 3}}},
       "color": {"field": "s", "type": "nominal",
                 "scale": {"domain": ["Scenario 1 from ref. (17)","Scenario 2 from ref. (17)","Scenario 1 from ref. (20)","Scenario 2 from ref. (20)"], "range": ["#f5b8c2","#ff0000","#b5eb72","#566b36"]},
                 "legend": {"orient": "bottom-left", "offset": 5, "title": null, "padding": 9, "rowPadding": 2.4, "symbolSize": 49, "symbolStrokeColor": "#999", "symbolStrokeWidth": 1, "symbolOpacity": 1, "labelOffset": 16, "symbolOffset": 6, "strokeColor": "#333", "fillColor": "#ffffff"}},
       "shape": {"field": "s", "type": "nominal",
                 "scale": {"domain": ["Scenario 1 from ref. (17)","Scenario 2 from ref. (17)","Scenario 1 from ref. (20)","Scenario 2 from ref. (20)"], "range": ["circle","circle","diamond","diamond"]},
                 "legend": null}}}
  ]
}
]
}
